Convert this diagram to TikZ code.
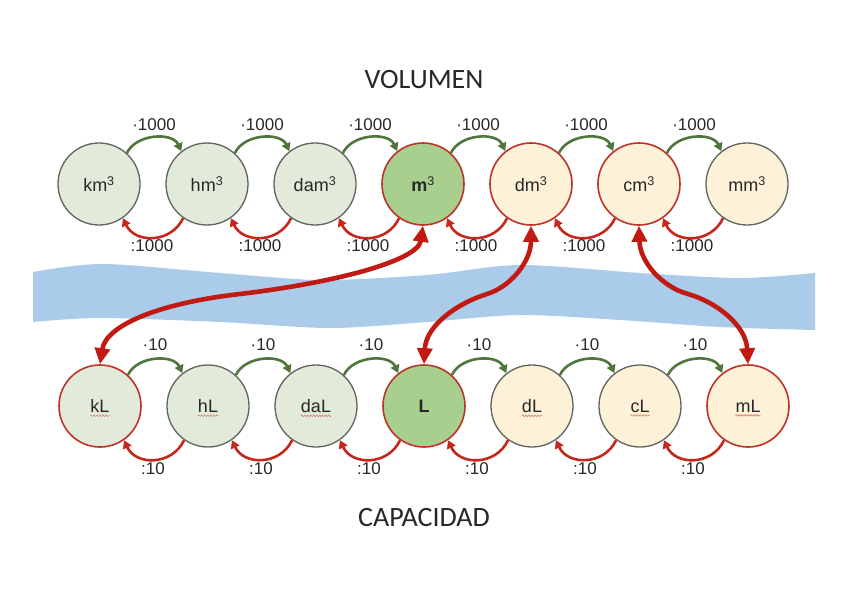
\documentclass[tikz,border=0pt]{standalone}
\usepackage{fontspec}
\setmainfont{Liberation Sans}
\newfontfamily\titlefont{Carlito}
\usetikzlibrary{arrows.meta,decorations.pathmorphing,calc}
\definecolor{gfill}{RGB}{226,235,218}
\definecolor{gstrong}{RGB}{169,207,142}
\definecolor{beige}{RGB}{253,241,215}
\definecolor{gborder}{RGB}{95,100,95}
\definecolor{rborder}{RGB}{190,50,40}
\definecolor{garrow}{RGB}{80,118,62}
\definecolor{rarrow}{RGB}{196,40,28}
\definecolor{bigred}{RGB}{192,26,18}
\definecolor{bandc}{RGB}{170,203,233}
\definecolor{squigc}{RGB}{225,120,110}
\definecolor{txtc}{RGB}{40,40,40}
\begin{document}
\begin{tikzpicture}[x=1pt,y=1pt,
  circ/.style={circle, minimum size=82pt, inner sep=0pt, line width=1.3pt, draw=gborder, text=txtc,
    font=\fontsize{18}{20}\selectfont},
  lg/.style={circ, fill=gfill},
  sg/.style={circ, fill=gstrong, draw=rborder, line width=1.6pt},
  bg/.style={circ, fill=beige},
  redb/.style={draw=rborder, line width=1.6pt},
  txt/.style={inner sep=0pt, text=txtc, font=\fontsize{18}{20}\selectfont},
  lbl/.style={inner sep=0pt, text=txtc, font=\fontsize{17}{20}\selectfont},
  titletxt/.style={inner sep=0pt, text=txtc, font=\titlefont\fontsize{28}{32}\selectfont},
  garc/.style={draw=garrow, line width=2.6pt, -{Triangle[length=8pt,width=9pt]}},
  rarc/.style={draw=rarrow, line width=2.6pt, -{Triangle[length=8pt,width=9pt]}},
  big/.style={draw=bigred, line width=4.6pt, {Triangle[length=16pt,width=15pt]}-{Triangle[length=16pt,width=15pt]}},
  squig/.style={draw=squigc, line width=0.6pt, decorate, decoration={snake, amplitude=0.8pt, segment length=3pt}}
]
\useasboundingbox (0,0) rectangle (848,-599);
\fill[white] (0,0) rectangle (848,-599);

% band
\fill[bandc] plot[smooth] coordinates {(33,-272) (103,-264) (220,-273) (320,-280) (427,-275) (520,-265) (640,-273) (740,-278) (815,-273)}
  -- plot[smooth] coordinates {(815,-330) (720,-327) (620,-320) (520,-315) (427,-322) (330,-328) (220,-322) (100,-318) (33,-322)} -- cycle;

% titles
\node[titletxt] (vol) at (424,-80) {VOLUMEN};
\node[titletxt] (cap) at (424,-518) {CAPACIDAD};

% top row
\node[lg] (km) at (99,-184) {km\textsuperscript{3}};
\node[lg] (hm) at (207,-184) {hm\textsuperscript{3}};
\node[lg] (dam) at (315,-184) {dam\textsuperscript{3}};
\node[sg] (m) at (423,-184) {\textbf{m}\textsuperscript{3}};
\node[bg,redb] (dm) at (531,-184) {dm\textsuperscript{3}};
\node[bg,redb] (cm) at (639,-184) {cm\textsuperscript{3}};
\node[bg] (mm) at (747,-184) {mm\textsuperscript{3}};

% bottom row
\node[lg,redb] (kL) at (100,-406) {};
\node[lg] (hL) at (208,-406) {};
\node[lg] (daL) at (316,-406) {};
\node[sg] (L) at (424,-406) {\textbf{L}};
\node[bg] (dL) at (532,-406) {};
\node[bg] (cL) at (640,-406) {};
\node[bg,redb] (mL) at (748,-406) {};

\foreach \n/\t in {kL/kL, hL/hL, daL/daL, dL/dL, cL/cL, mL/mL}{
  \node[txt] (\n t) at (\n) {\t};
  \draw[squig] ([yshift=-3pt]\n t.south west) -- ([yshift=-3pt]\n t.south east);
}

% small arcs top
\foreach \a/\b in {km/hm, hm/dam, dam/m, m/dm, dm/cm, cm/mm}{
  \draw[garc] (\a.48) to[out=65,in=115] (\b.128);
  \draw[rarc] (\b.235) to[out=-115,in=-65,looseness=1.2] (\a.305);
  \node[lbl] (g\a) at ($(\a)!0.5!(\b)+(1,59)$) {·1000};
  \node[lbl] (r\a) at ($(\a)!0.5!(\b)+(-1,-62)$) {:1000};
}
% small arcs bottom
\foreach \a/\b in {kL/hL, hL/daL, daL/L, L/dL, dL/cL, cL/mL}{
  \draw[garc] (\a.48) to[out=65,in=115] (\b.128);
  \draw[rarc] (\b.235) to[out=-115,in=-65,looseness=1.2] (\a.305);
  \node[lbl] (g\a) at ($(\a)!0.5!(\b)+(1,61)$) {·10};
  \node[lbl] (r\a) at ($(\a)!0.5!(\b)+(-1,-63)$) {:10};
}

% big arrows
\draw[big] (m.south) .. controls (418,-260) and (340,-282) .. (240,-294) .. controls (160,-303) and (106,-325) .. (kL.north);
\draw[big] (dm.south) .. controls (531,-262) and (510,-287) .. (487,-294) .. controls (458,-303) and (426,-325) .. (L.north);
\draw[big] (cm.south) .. controls (640,-262) and (662,-287) .. (688,-294) .. controls (716,-302) and (746,-325) .. (mL.north);
\end{tikzpicture}
\end{document}
